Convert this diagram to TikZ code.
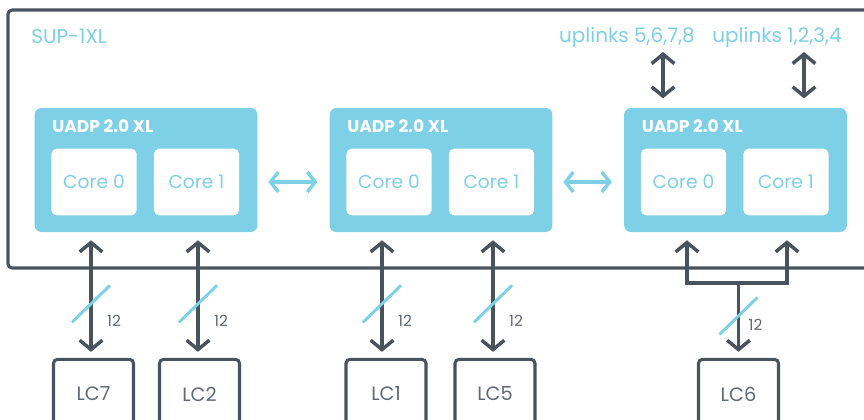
\documentclass[tikz,border=0pt]{standalone}
\usepackage{fontspec}
\setmainfont{Poppins}
\usepackage{tikz}
\usetikzlibrary{arrows.meta,positioning}

\definecolor{chipblue}{HTML}{7DD0E6}
\definecolor{slate}{HTML}{48535E}
\definecolor{lctext}{HTML}{5E6872}

\tikzset{
  frame/.style={draw=slate, line width=2.3pt, rounded corners=3pt},
  uadp/.style={fill=chipblue, rounded corners=5pt, minimum width=167pt, minimum height=93pt, inner sep=0pt},
  core/.style={fill=white, rounded corners=4pt, minimum width=64pt, minimum height=50pt, inner sep=0pt,
    text=chipblue, font=\fontsize{14}{16}\selectfont},
  chiptitle/.style={text=white, font=\bfseries\fontsize{12.8}{14}\selectfont, inner sep=0pt},
  lc/.style={draw=slate, line width=2.3pt, rounded corners=3pt, minimum width=60pt, minimum height=52pt,
    inner sep=0pt, text=lctext, font=\fontsize{14.5}{16}\selectfont},
  link/.style={draw=slate, line width=2.6pt, {Straight Barb[length=7pt,width=17pt]}-{Straight Barb[length=7pt,width=17pt]}},
  uplink/.style={draw=slate, line width=2.6pt, -{Straight Barb[length=7pt,width=17pt]}},
  bus/.style={draw=slate, line width=2.6pt},
  hlink/.style={draw=chipblue, line width=2.5pt, {Straight Barb[length=6pt,width=15pt]}-{Straight Barb[length=6pt,width=15pt]}},
  slash/.style={draw=chipblue, line width=2.2pt},
  num/.style={text=lctext, font=\fontsize{11.5}{13}\selectfont, inner sep=0pt},
  lbl/.style={text=chipblue, font=\fontsize{15}{17}\selectfont, inner sep=0pt}
}

\begin{document}
\begin{tikzpicture}[x=0.75pt,y=-0.75pt]
  \useasboundingbox (0,0) rectangle (864,419);
  \clip (0,0) rectangle (864,419);

  % supervisor frame
  \draw[frame] (8,10) rectangle (880,268);
  \node[lbl, anchor=west] (sup) at (31,36) {SUP-1XL};
  \node[lbl] (upB) at (627,37) {uplinks 5,6,7,8};
  \node[lbl] (upA) at (777,37) {uplinks 1,2,3,4};

  % the three ASICs
  \foreach \n/\cx in {A/146,B/441,C/735.5} {
    \node[uadp] (uadp\n) at (\cx,170) {};
    \node[chiptitle, anchor=west] (title\n) at (\cx-94,126) {UADP 2.0 XL};
    \node[core] (core\n0) at (\cx-52,182) {Core 0};
    \node[core] (core\n1) at (\cx+50.5,182) {Core 1};
  }

  \draw[hlink, shorten <=8pt, shorten >=9pt] (coreA1.east -| uadpA.east) -- (coreB0.west -| uadpB.west);
  \draw[hlink, shorten <=8pt, shorten >=9pt] (coreB1.east -| uadpB.east) -- (coreC0.west -| uadpC.west);

  % uplinks
  \coordinate (upBend) at (663,52);
  \coordinate (upAend) at (804,52);
  \draw[link, shorten >=7pt] (upBend) -- (upBend |- uadpC.north);
  \draw[link, shorten >=7pt] (upAend) -- (upAend |- uadpC.north);

  % line cards
  \node[lc] (lc7) at (93.5,394) {LC7};
  \node[lc] (lc2) at (199.5,394) {LC2};
  \node[lc] (lc1) at (386,394) {LC1};
  \node[lc] (lc5) at (495,394) {LC5};
  \node[lc] (lc6) at (738.5,394) {LC6};

  \foreach \c/\u/\dx in {lc7/uadpA/-2.5,lc2/uadpA/-1.5,lc1/uadpB/-4,lc5/uadpB/-2} {
    \draw[link, shorten <=4.5pt, shorten >=6pt] ([xshift=\dx*0.75pt]\c.north) -- coordinate[pos=0.43] (s\c) ([xshift=\dx*0.75pt]\c.north |- \u.south);
    \draw[slash] (s\c) ++(-19,18.5) -- ++(38,-37);
    \node[num] at ([shift={(23,17.5)}]s\c) {12};
  }

  % LC6 goes to both cores of the third ASIC
  \coordinate (busL) at (687,283);
  \coordinate (busR) at (787,283);
  \draw[bus, line cap=rect] (busL) -- (busR);
  \draw[uplink, shorten >=6pt] (busL) -- (busL |- uadpC.south);
  \draw[uplink, shorten >=6pt] (busR) -- (busR |- uadpC.south);
  \draw[uplink, shorten >=4.5pt] (lc6.north |- busL) -- coordinate[pos=0.44] (slc6) (lc6.north);
  \draw[slash] (slc6) ++(-19,18.5) -- ++(38,-37);
  \node[num] at ([shift={(17,8.5)}]slc6) {12};
\end{tikzpicture}
\end{document}
